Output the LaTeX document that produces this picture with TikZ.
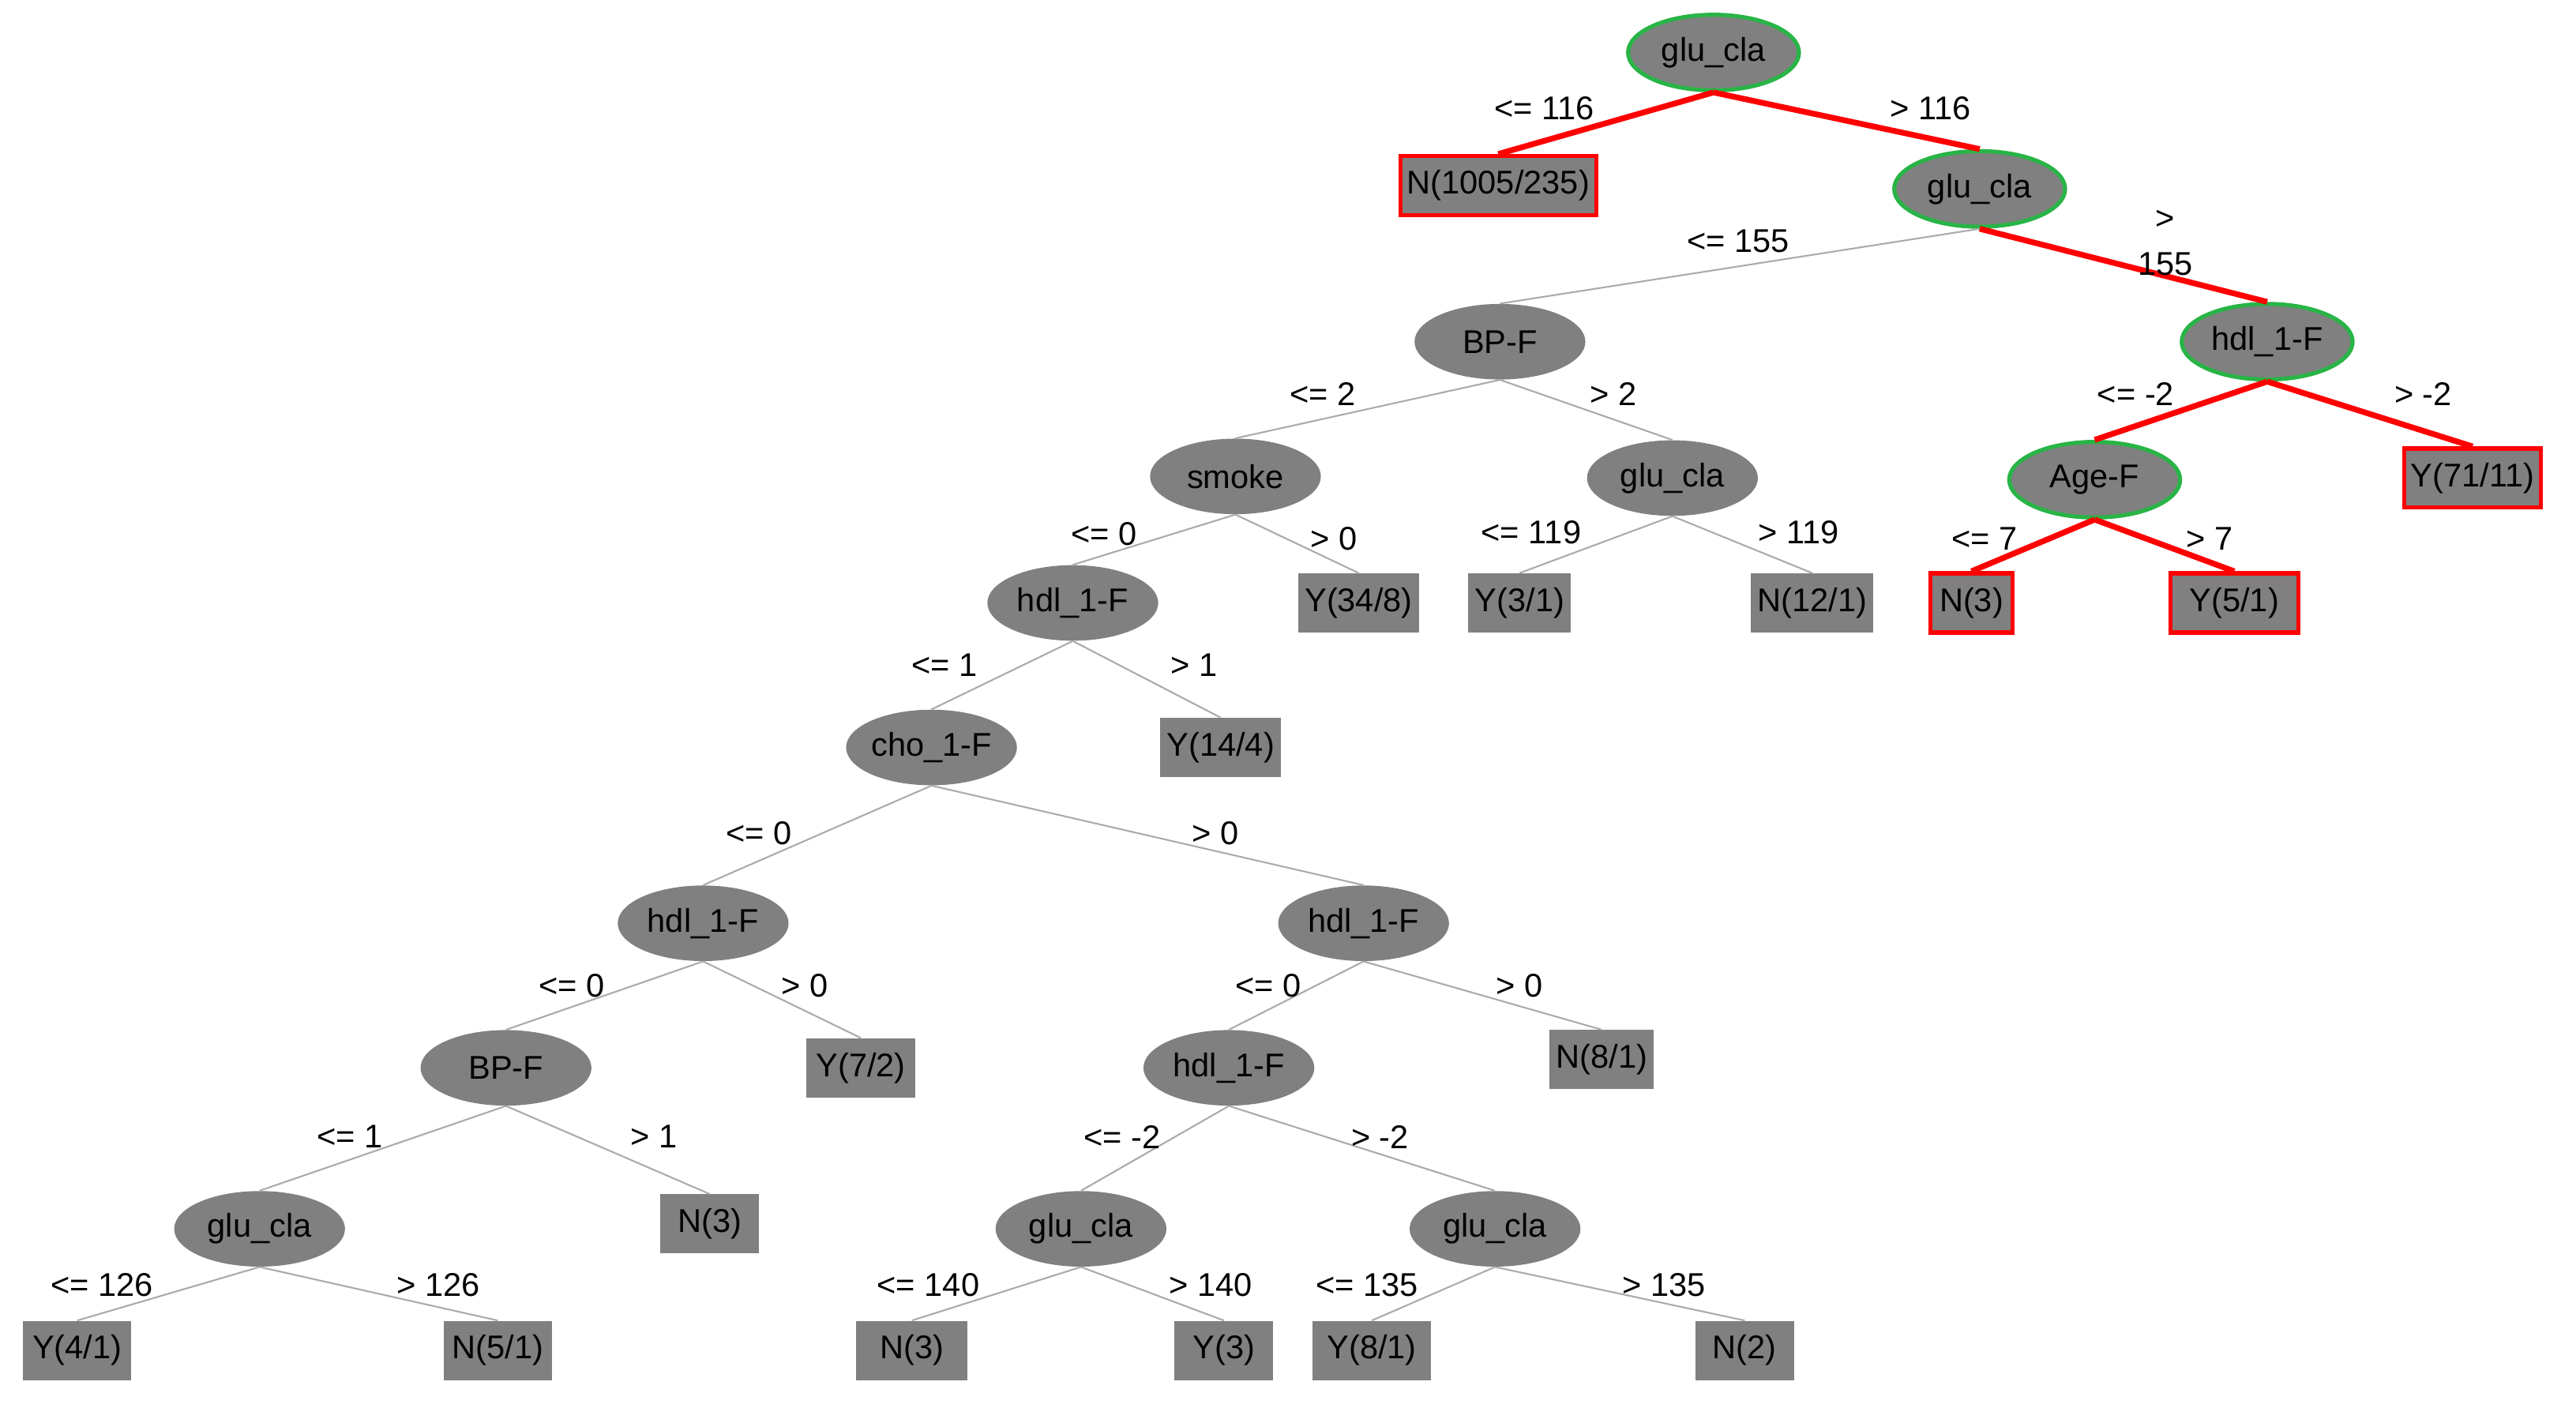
\documentclass[tikz,border=0pt]{standalone}
\usepackage{fontspec}
\setmainfont{Liberation Sans}
\usetikzlibrary{shapes.geometric}
\definecolor{nodeg}{RGB}{128,128,128}
\definecolor{edgeg}{RGB}{170,170,170}
\definecolor{grn}{RGB}{40,180,70}
\begin{document}
\begin{tikzpicture}[x=1pt,y=-1pt,
  font=\fontsize{20}{22}\selectfont,
  inn/.style={ellipse,fill=nodeg,minimum width=104pt,minimum height=46pt,inner sep=0pt},
  hin/.style={inn,draw=grn,line width=2.5pt},
  lf/.style={rectangle,fill=nodeg,minimum height=36pt,minimum width=60pt,inner xsep=4pt,inner ysep=2pt},
  hlf/.style={lf,draw=red,line width=2.5pt},
  e/.style={draw=edgeg,line width=1pt},
  he/.style={draw=red,line width=3.5pt},
  lb/.style={inner sep=1pt}]
\useasboundingbox (0,0) rectangle (1568,857);
\node[hin] (r) at (1043,32) {glu\_cla};
\node[hlf] (n1005) at (912,113) {N(1005/235)};
\node[hin] (g2) at (1205,115) {glu\_cla};
\node[inn] (bp1) at (913,208) {BP-F};
\node[hin] (h1) at (1380,208) {hdl\_1-F};
\node[inn] (sm) at (752,290) {smoke};
\node[inn] (g3) at (1018,291) {glu\_cla};
\node[hin] (age) at (1275,292) {Age-F};
\node[hlf] (y71) at (1505,291) {Y(71/11)};
\node[inn] (h2) at (653,367) {hdl\_1-F};
\node[lf] (y34) at (827,367) {Y(34/8)};
\node[lf] (y31) at (925,367) {Y(3/1)};
\node[lf] (n121) at (1103,367) {N(12/1)};
\node[hlf,minimum width=50pt] (n3a) at (1200,367) {N(3)};
\node[hlf,minimum width=78pt] (y51) at (1360,367) {Y(5/1)};
\node[inn] (cho) at (567,455) {cho\_1-F};
\node[lf] (y144) at (743,455) {Y(14/4)};
\node[inn] (h3) at (428,562) {hdl\_1-F};
\node[inn] (h4) at (830,562) {hdl\_1-F};
\node[inn] (bp2) at (308,650) {BP-F};
\node[lf,minimum width=66pt] (y72) at (524,650) {Y(7/2)};
\node[inn] (h5) at (748,650) {hdl\_1-F};
\node[lf] (n81) at (975,645) {N(8/1)};
\node[inn] (g4) at (158,748) {glu\_cla};
\node[lf] (n3b) at (432,745) {N(3)};
\node[inn] (g5) at (658,748) {glu\_cla};
\node[inn] (g6) at (910,748) {glu\_cla};
\node[lf,minimum width=66pt] (y41) at (47,822) {Y(4/1)};
\node[lf,minimum width=66pt] (n51) at (303,822) {N(5/1)};
\node[lf,minimum width=68pt] (n3c) at (555,822) {N(3)};
\node[lf] (y3) at (745,822) {Y(3)};
\node[lf,minimum width=72pt] (y81) at (835,822) {Y(8/1)};
\node[lf] (n2) at (1062,822) {N(2)};
% edges
\draw[he] (r.south) -- (n1005.north);
\draw[he] (r.south) -- (g2.north);
\draw[e] (g2.south) -- (bp1.north);
\draw[he] (g2.south) -- (h1.north);
\draw[e] (bp1.south) -- (sm.north);
\draw[e] (bp1.south) -- (g3.north);
\draw[he] (h1.south) -- (age.north);
\draw[he] (h1.south) -- (y71.north);
\draw[e] (sm.south) -- (h2.north);
\draw[e] (sm.south) -- (y34.north);
\draw[e] (g3.south) -- (y31.north);
\draw[e] (g3.south) -- (n121.north);
\draw[he] (age.south) -- (n3a.north);
\draw[he] (age.south) -- (y51.north);
\draw[e] (h2.south) -- (cho.north);
\draw[e] (h2.south) -- (y144.north);
\draw[e] (cho.south) -- (h3.north);
\draw[e] (cho.south) -- (h4.north);
\draw[e] (h3.south) -- (bp2.north);
\draw[e] (h3.south) -- (y72.north);
\draw[e] (h4.south) -- (h5.north);
\draw[e] (h4.south) -- (n81.north);
\draw[e] (bp2.south) -- (g4.north);
\draw[e] (bp2.south) -- (n3b.north);
\draw[e] (h5.south) -- (g5.north);
\draw[e] (h5.south) -- (g6.north);
\draw[e] (g4.south) -- (y41.north);
\draw[e] (g4.south) -- (n51.north);
\draw[e] (g5.south) -- (n3c.north);
\draw[e] (g5.south) -- (y3.north);
\draw[e] (g6.south) -- (y81.north);
\draw[e] (g6.south) -- (n2.north);
% labels
\node[lb] (l1) at (940,66) {<= 116};
\node[lb] (l2) at (1175,66) {> 116};
\node[lb] (l3) at (1058,147) {<= 155};
\node[lb,align=center] (l4) at (1318,148) {>\\[6pt]155};
\node[lb] (l5) at (805,240) {<= 2};
\node[lb] (l6) at (982,240) {> 2};
\node[lb] (l7) at (1300,240) {<= -2};
\node[lb] (l8) at (1475,240) {> -2};
\node[lb] (l9) at (672,325) {<= 0};
\node[lb] (l10) at (812,328) {> 0};
\node[lb] (l11) at (932,324) {<= 119};
\node[lb] (l12) at (1095,324) {> 119};
\node[lb] (l13) at (1208,328) {<= 7};
\node[lb] (l14) at (1345,328) {> 7};
\node[lb] (l15) at (575,405) {<= 1};
\node[lb] (l16) at (727,405) {> 1};
\node[lb] (l17) at (462,507) {<= 0};
\node[lb] (l18) at (740,507) {> 0};
\node[lb] (l19) at (348,600) {<= 0};
\node[lb] (l20) at (490,600) {> 0};
\node[lb] (l21) at (772,600) {<= 0};
\node[lb] (l22) at (925,600) {> 0};
\node[lb] (l23) at (213,692) {<= 1};
\node[lb] (l24) at (398,692) {> 1};
\node[lb] (l25) at (683,692) {<= -2};
\node[lb] (l26) at (840,692) {> -2};
\node[lb] (l27) at (62,782) {<= 126};
\node[lb] (l28) at (267,782) {> 126};
\node[lb] (l29) at (565,782) {<= 140};
\node[lb] (l30) at (737,782) {> 140};
\node[lb] (l31) at (832,782) {<= 135};
\node[lb] (l32) at (1013,782) {> 135};
\end{tikzpicture}
\end{document}
